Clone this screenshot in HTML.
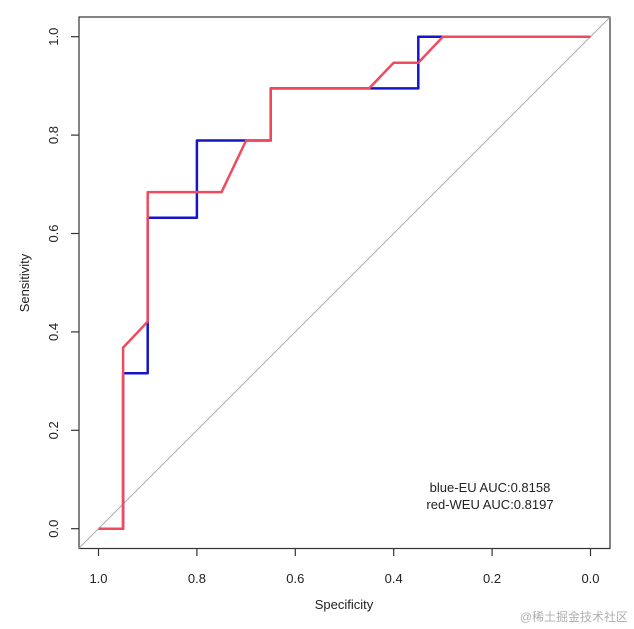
<!DOCTYPE html>
<html><head><meta charset="utf-8"><style>
html,body{margin:0;padding:0;background:#fff;width:634px;height:629px;overflow:hidden}
text{font-family:"Liberation Sans",Arial,sans-serif;fill:#222}
</style></head><body>
<svg id="chart" width="634" height="629" xmlns="http://www.w3.org/2000/svg">
<g id="g"></g>
<text x="628" y="621" text-anchor="end" font-size="12" style="fill:#b0b0b0;font-family:'Liberation Sans','Noto Sans CJK SC',sans-serif">@稀土掘金技术社区</text>
</svg>
<script>
const ticks=[1.0,0.8,0.6,0.4,0.2,0.0];
const tickLabels=["1.0","0.8","0.6","0.4","0.2","0.0"];
const blueSpec=[1,0.95,0.95,0.9,0.9,0.8,0.8,0.65,0.65,0.35,0.35,0.3,0];
const blueSens=[0,0,0.316,0.316,0.632,0.632,0.789,0.789,0.895,0.895,1,1,1];
const redSpec=[1,0.95,0.95,0.9,0.9,0.75,0.7,0.65,0.65,0.45,0.4,0.35,0.3,0];
const redSens=[0,0,0.368,0.421,0.684,0.684,0.789,0.789,0.895,0.895,0.947,0.947,1,1];
const legendLines=["blue-EU AUC:0.8158","red-WEU AUC:0.8197"];
const NS="http://www.w3.org/2000/svg";
const g=document.getElementById('g');
const X=s=>98.5+(1-s)*492, Y=v=>528.7-v*492;
function mk(t,a){const e=document.createElementNS(NS,t);for(const k in a)e.setAttribute(k,a[k]);g.appendChild(e);return e;}
let b=mk('rect',{x:79,y:17,width:531,height:531.5,fill:'none',stroke:'#333','stroke-width':1.2});


let d=mk('line',{x1:X(1.04),y1:Y(-0.04),x2:X(-0.04),y2:Y(1.04),stroke:'#aaa','stroke-width':1});


ticks.forEach((t,i)=>{
 let l=mk('line',{x1:X(t),y1:548.5,x2:X(t),y2:556,stroke:'#333','stroke-width':1.2});
 
 
 let tx=mk('text',{x:X(t),y:583,'text-anchor':'middle','font-size':13});tx.textContent=tickLabels[i];
 
 
 let vy=1-t;
 let l2=mk('line',{x1:71,y1:Y(vy),x2:79,y2:Y(vy),stroke:'#333','stroke-width':1.2});
 
 
 let ty=mk('text',{x:58,y:Y(vy),'text-anchor':'middle','font-size':13,transform:`rotate(-90 58 ${Y(vy)})`});ty.textContent=tickLabels[5-i];
 
 
});
function series(sp,se,c,n){
 const p=mk('polyline',{points:sp.map((s,i)=>X(s)+','+Y(se[i])).join(' '),fill:'none',stroke:c,'stroke-width':2.5,'stroke-linejoin':'round'});
 
 
}
series(blueSpec,blueSens,'#1515c8','roc-line-blue-eu');
series(redSpec,redSens,'#f04a5e','roc-line-red-weu');
let xl=mk('text',{x:344,y:609,'text-anchor':'middle','font-size':13});xl.textContent='Specificity';


let yl=mk('text',{x:29,y:283,'text-anchor':'middle','font-size':13,transform:'rotate(-90 29 283)'});yl.textContent='Sensitivity';


legendLines.forEach((s,i)=>{
 let t=mk('text',{x:490,y:492+i*17,'text-anchor':'middle','font-size':13});t.textContent=s;
 
 
});
</script>
</body></html>
